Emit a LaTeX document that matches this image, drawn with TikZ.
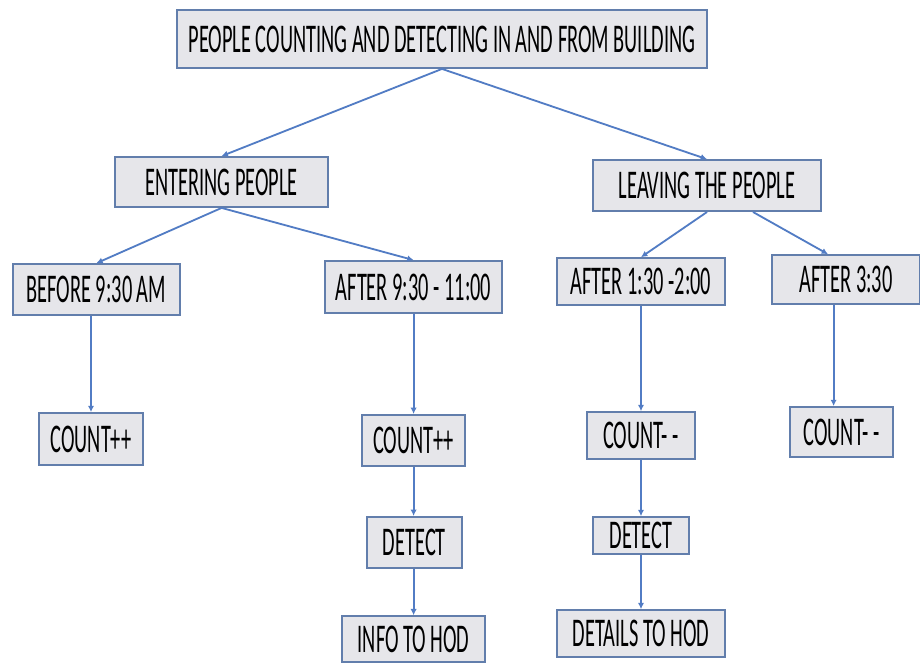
\documentclass[tikz,border=0pt]{standalone}
\usepackage{fontspec}
\setmainfont[FakeStretch=0.5]{Carlito}
\usetikzlibrary{arrows.meta}
\definecolor{boxfill}{RGB}{230,230,234}
\definecolor{boxline}{RGB}{98,126,172}
\definecolor{arrowblue}{RGB}{82,124,196}

\begin{document}
\begin{tikzpicture}[
    box/.style={draw=boxline,line width=1.3pt,fill=boxfill,inner sep=0pt,
      font=\fontsize{29}{31}\selectfont},
    link/.style={-{Latex[length=4.5pt,width=4.5pt]},draw=arrowblue,line width=1.3pt}
  ]
      \useasboundingbox (0,0) rectangle (23,-16.6);
      % levels
      \node[box,minimum width=13.25cm,minimum height=1.45cm] (title) at (11.05,-0.975) {PEOPLE COUNTING AND DETECTING IN AND FROM BUILDING};
      \node[box,minimum width=5.33cm,minimum height=1.25cm] (enter) at (5.54,-4.55) {ENTERING PEOPLE};
      \node[box,minimum width=5.7cm,minimum height=1.275cm] (leave) at (17.675,-4.64) {LEAVING THE PEOPLE};
      \node[box,minimum width=4.18cm,minimum height=1.275cm] (before) at (2.41,-7.24) {BEFORE 9:30 AM};
      \node[box,minimum width=4.43cm,minimum height=1.3cm] (afterA) at (10.34,-7.175) {AFTER 9:30 - 11:00};
      \node[box,minimum width=4.2cm,minimum height=1.175cm] (afterB) at (16.025,-7.04) {AFTER 1:30 -2:00};
      \node[box,minimum width=3.7cm,minimum height=1.225cm] (afterC) at (21.15,-6.99) {AFTER 3:30};
      \node[box,minimum width=2.6cm,minimum height=1.3cm] (incA) at (2.275,-10.975) {COUNT++};
      \node[box,minimum width=2.58cm,minimum height=1.275cm] (incB) at (10.34,-11.01) {COUNT++};
      \node[box,minimum width=2.375cm,minimum height=1.275cm] (detA) at (10.36,-13.56) {DETECT};
      \node[box,minimum width=3.575cm,minimum height=1.15cm] (info) at (10.34,-15.98) {INFO TO HOD};
      \node[box,minimum width=2.7cm,minimum height=1.175cm] (decA) at (16.025,-10.89) {COUNT- -};
      \node[box,minimum width=2.575cm,minimum height=1.25cm] (decB) at (21.04,-10.8) {COUNT- -};
      \node[box,minimum width=2.4cm,minimum height=0.925cm] (detB) at (16.025,-13.39) {DETECT};
      \node[box,minimum width=4.2cm,minimum height=1.175cm] (details) at (16.025,-15.84) {DETAILS TO HOD};
      % arrows
      \draw[link] (title.south) -- (enter.north);
      \draw[link] (title.south) -- (leave.north);
      \draw[link] (enter.south) -- (before.north);
      \draw[link] (enter.south) -- (afterA.north);
      \draw[link] (leave.south) -- (afterB.north);
      \draw[link] ([xshift=1.15cm]leave.south) -- ([xshift=-0.45cm]afterC.north);
      \draw[link] (incA |- before.south) -- (incA.north);
      \draw[link] (afterA.south) -- (incB.north);
      \draw[link] (incB.south) -- (detA.north -| incB);
      \draw[link] (detA.south -| incB) -- (info.north);
      \draw[link] (afterB.south) -- (decA.north);
      \draw[link] (decA.south) -- (detB.north);
      \draw[link] (detB.south) -- (details.north);
      \draw[link] ([xshift=-0.2cm]decB.north |- afterC.south) -- ([xshift=-0.2cm]decB.north);
\end{tikzpicture}
\end{document}
